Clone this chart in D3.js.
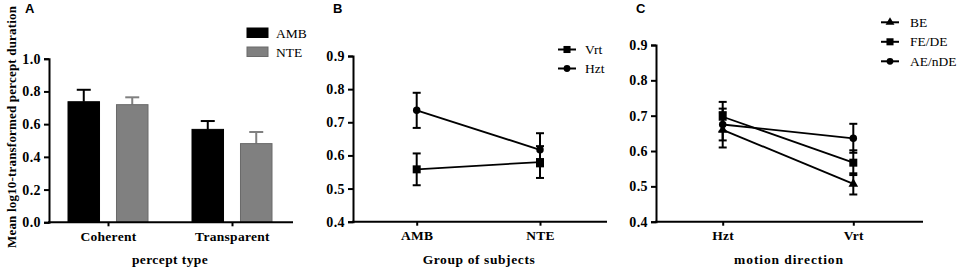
<!DOCTYPE html>
<html><head><meta charset="utf-8">
<script src="https://cdn.jsdelivr.net/npm/d3@7"></script>
<style>
body{margin:0;background:#fff;}
</style></head>
<body><svg id="c" width="964" height="274"></svg>
<script>
// Panel A data
const aCats = ["Coherent", "Transparent"];
const aGroups = ["AMB", "NTE"];
const aMeans = {AMB: [0.737, 0.568], NTE: [0.719, 0.481]};
const aErr = {AMB: [0.073, 0.051], NTE: [0.045, 0.071]};
const aTicks = [0, 0.2, 0.4, 0.6, 0.8, 1.0];
// Panel B data
const bCats = ["AMB", "NTE"];
const bSeries = ["Vrt", "Hzt"];
const bMeans = {Vrt: [0.558, 0.580], Hzt: [0.736, 0.617]};
const bErr = {Vrt: [0.048, 0.048], Hzt: [0.053, 0.050]};
const bTicks = [0.4, 0.5, 0.6, 0.7, 0.8, 0.9];
// Panel C data
const cCats = ["Hzt", "Vrt"];
const cSeries = ["BE", "FE/DE", "AE/nDE"];
const cMeans = {"BE": [0.660, 0.507], "FE/DE": [0.697, 0.567], "AE/nDE": [0.675, 0.636]};
const cErr = {"BE": [0.050, 0.030], "FE/DE": [0.042, 0.035], "AE/nDE": [0.045, 0.041]};
const cTicks = [0.4, 0.5, 0.6, 0.7, 0.8, 0.9];

const SERIF = '"Liberation Serif", "Times New Roman", serif';
const SANS = '"Liberation Sans", Arial, sans-serif';
const svg = d3.select("#c");
const fmt = d3.format(".1f");

function txt(g, x, y, s, opts={}){
  const t = g.append("text").attr("x",x).attr("y",y).text(s)
    .style("font-family", opts.sans?SANS:SERIF)
    .style("font-size", (opts.size||13)+"px")
    .style("font-weight", opts.bold?"bold":"normal")
    .attr("text-anchor", opts.anchor||"start")
    .attr("fill","#000");
  if (opts.ls) t.style("letter-spacing", opts.ls+"px");
  return t;
}

function styleAxis(g){
  g.attr("font-family", null);
  g.select(".domain").attr("stroke","#000").attr("stroke-width",2);
  g.selectAll(".tick line").attr("stroke","#000").attr("stroke-width",2);
  g.selectAll(".tick text").style("font-family",SERIF).style("font-weight","bold").style("font-size","14px").style("letter-spacing","0.4px").attr("fill","#000");
}

function drawSymbol(g, type, x, yv, size){
  const sym = type==="square"?d3.symbolSquare:(type==="triangle"?d3.symbolTriangle:d3.symbolCircle);
  g.append("path").attr("d",d3.symbol().type(sym).size(size)()).attr("transform",`translate(${x},${yv})`).attr("fill","#000");
}

// ---------- Panel A ----------
{
  const x0 = 49, x1 = 293, yTop = 58.7, yBot = 222.3;
  const y = d3.scaleLinear().domain([0,1]).range([yBot,yTop]);
  const xc = d3.scalePoint().domain(aCats).range([108,232]);
  const xs = d3.scaleBand().domain(aGroups).range([-40,40]).paddingInner(0.35);
  const colors = {AMB:"#000", NTE:"#808080"};
  const g = svg.append("g");
  aGroups.forEach(grp=>{
    aCats.forEach((c,i)=>{
      const bx = xc(c)+xs(grp), bw = xs.bandwidth();
      const v = aMeans[grp][i], e = aErr[grp][i];
      g.append("line").attr("x1",bx+bw/2).attr("x2",bx+bw/2).attr("y1",y(v)).attr("y2",y(v+e)).attr("stroke",colors[grp]).attr("stroke-width",2);
      g.append("line").attr("x1",bx+bw/2-7).attr("x2",bx+bw/2+7).attr("y1",y(v+e)).attr("y2",y(v+e)).attr("stroke",colors[grp]).attr("stroke-width",2);
      g.append("rect").attr("x",bx).attr("width",bw).attr("y",y(v)).attr("height",y(0)-y(v)).attr("fill",colors[grp]).attr("stroke",grp==="NTE"?"#6a6a6a":"#000").attr("stroke-width",1);
    });
  });
  g.append("g").attr("transform",`translate(${x0},0)`).call(d3.axisLeft(y).tickValues(aTicks).tickFormat(fmt).tickSizeOuter(0).tickSize(5).tickPadding(3)).call(styleAxis);
  const xa = g.append("g").attr("transform",`translate(0,${yBot})`);
  xa.append("line").attr("x1",x0-1).attr("x2",x1).attr("stroke","#000").attr("stroke-width",2);
  xa.call(d3.axisBottom(xc).tickSize(4).tickSizeOuter(0).tickPadding(5)).call(styleAxis);
  xa.selectAll(".tick text").style("font-size","13.5px").style("letter-spacing","0.3px");
  xa.select(".domain").remove();
  txt(g, 170, 264, "percept type", {bold:true, size:13.5, anchor:"middle", ls:0.4});
  txt(g, 0, 0, "Mean log10-transformed percept duration", {bold:true, size:13, anchor:"middle"})
    .attr("transform","translate(16,127) rotate(-90)").attr("textLength",242).attr("lengthAdjust","spacing");
  txt(g, 25, 13, "A", {sans:true, bold:true, size:13});
  aGroups.forEach((grp,i)=>{
    const ly = 28 + i*19;
    g.append("rect").attr("x",247).attr("y",ly).attr("width",21).attr("height",9.5).attr("fill",colors[grp]).attr("stroke",grp==="NTE"?"#6a6a6a":"#000");
    txt(g, 276, ly+9.5, grp, {size:13.5});
  });
}

// ---------- Panel B ----------
{
  const x0 = 353, x1 = 607, yTop = 56, yBot = 221.7;
  const y = d3.scaleLinear().domain([0.4,0.9]).range([yBot,yTop]);
  const xc = d3.scalePoint().domain(bCats).range([416.7,540]);
  const shapes = {Vrt:"square", Hzt:"circle"};
  const g = svg.append("g");
  bSeries.forEach(s=>{
    const pts = bCats.map((c,i)=>[xc(c), y(bMeans[s][i])]);
    g.append("path").attr("d",d3.line()(pts)).attr("stroke","#000").attr("stroke-width",1.8).attr("fill","none");
    bCats.forEach((c,i)=>{
      const v=bMeans[s][i], e=bErr[s][i], cx=xc(c);
      g.append("line").attr("x1",cx).attr("x2",cx).attr("y1",y(v-e)).attr("y2",y(v+e)).attr("stroke","#000").attr("stroke-width",2);
      [v-e,v+e].forEach(t=>g.append("line").attr("x1",cx-4).attr("x2",cx+4).attr("y1",y(t)).attr("y2",y(t)).attr("stroke","#000").attr("stroke-width",2));
      drawSymbol(g, shapes[s], cx, y(v), shapes[s]==="square"?64:44);
    });
  });
  g.append("g").attr("transform",`translate(${x0},0)`).call(d3.axisLeft(y).tickValues(bTicks).tickFormat(fmt).tickSizeOuter(0).tickSize(5).tickPadding(3)).call(styleAxis);
  const xa = g.append("g").attr("transform",`translate(0,${yBot})`);
  xa.append("line").attr("x1",x0-1).attr("x2",x1).attr("stroke","#000").attr("stroke-width",2);
  xa.call(d3.axisBottom(xc).tickSize(4).tickSizeOuter(0).tickPadding(5)).call(styleAxis);
  xa.selectAll(".tick text").style("font-size","13.5px").style("letter-spacing","0.3px");
  xa.select(".domain").remove();
  txt(g, 479, 264, "Group of subjects", {size:13.5, anchor:"middle", ls:0.6}).style("font-weight","600");
  txt(g, 333, 13, "B", {sans:true, bold:true, size:13});
  bSeries.forEach((s,i)=>{
    const ly = 49.5 + i*19;
    g.append("line").attr("x1",558).attr("x2",576).attr("y1",ly).attr("y2",ly).attr("stroke","#000").attr("stroke-width",2);
    drawSymbol(g, shapes[s], 567, ly, shapes[s]==="square"?50:36);
    txt(g, 585, ly+4.5, s, {size:13.5});
  });
}

// ---------- Panel C ----------
{
  const x0 = 656, x1 = 923, yTop = 45, yBot = 221.7;
  const y = d3.scaleLinear().domain([0.4,0.9]).range([yBot,yTop]);
  const xc = d3.scalePoint().domain(cCats).range([722.7,853.3]);
  const shapes = {"BE":"triangle","FE/DE":"square","AE/nDE":"circle"};
  const g = svg.append("g");
  cSeries.forEach(s=>{
    const pts = cCats.map((c,i)=>[xc(c), y(cMeans[s][i])]);
    g.append("path").attr("d",d3.line()(pts)).attr("stroke","#000").attr("stroke-width",1.8).attr("fill","none");
  });
  cSeries.forEach(s=>{
    cCats.forEach((c,i)=>{
      const v=cMeans[s][i], e=cErr[s][i], cx=xc(c);
      g.append("line").attr("x1",cx).attr("x2",cx).attr("y1",y(v-e)).attr("y2",y(v+e)).attr("stroke","#000").attr("stroke-width",2);
      [v-e,v+e].forEach(t=>g.append("line").attr("x1",cx-4).attr("x2",cx+4).attr("y1",y(t)).attr("y2",y(t)).attr("stroke","#000").attr("stroke-width",2));
      drawSymbol(g, shapes[s], cx, y(v), shapes[s]==="square"?64:(shapes[s]==="triangle"?40:44));
    });
  });
  g.append("g").attr("transform",`translate(${x0},0)`).call(d3.axisLeft(y).tickValues(cTicks).tickFormat(fmt).tickSizeOuter(0).tickSize(5).tickPadding(3)).call(styleAxis);
  const xa = g.append("g").attr("transform",`translate(0,${yBot})`);
  xa.append("line").attr("x1",x0-1).attr("x2",x1).attr("stroke","#000").attr("stroke-width",2);
  xa.call(d3.axisBottom(xc).tickSize(4).tickSizeOuter(0).tickPadding(5)).call(styleAxis);
  xa.selectAll(".tick text").style("font-size","13.5px").style("letter-spacing","0.3px");
  xa.select(".domain").remove();
  txt(g, 789, 264, "motion direction", {bold:true, size:13.5, anchor:"middle", ls:0.9});
  txt(g, 636, 13, "C", {sans:true, bold:true, size:13});
  cSeries.forEach((s,i)=>{
    const ly = 22.3 + i*19.5;
    g.append("line").attr("x1",881).attr("x2",899).attr("y1",ly).attr("y2",ly).attr("stroke","#000").attr("stroke-width",2);
    drawSymbol(g, shapes[s], 890, ly, shapes[s]==="square"?50:(shapes[s]==="triangle"?34:36));
    txt(g, 910, ly+4.5, s, {size:13.5});
  });
}
</script></body></html>
